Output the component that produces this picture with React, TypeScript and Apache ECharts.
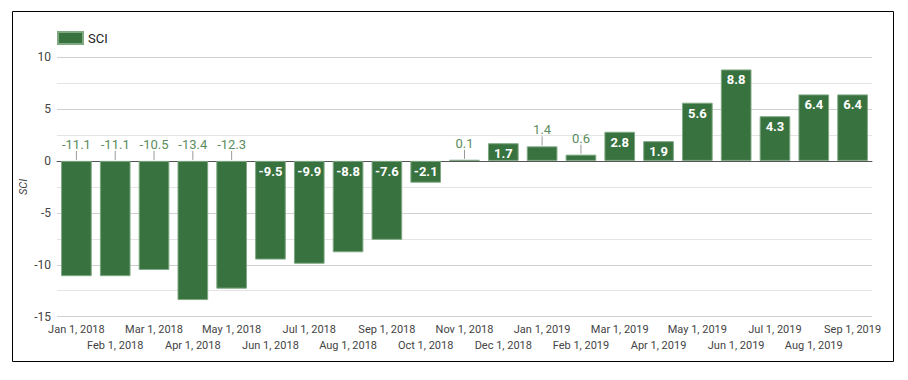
import React, { useEffect, useRef } from "react";
import * as echarts from "echarts";

const categories = [
  "Jan 1, 2018", "Feb 1, 2018", "Mar 1, 2018", "Apr 1, 2018", "May 1, 2018", "Jun 1, 2018",
  "Jul 1, 2018", "Aug 1, 2018", "Sep 1, 2018", "Oct 1, 2018", "Nov 1, 2018", "Dec 1, 2018",
  "Jan 1, 2019", "Feb 1, 2019", "Mar 1, 2019", "Apr 1, 2019", "May 1, 2019", "Jun 1, 2019",
  "Jul 1, 2019", "Aug 1, 2019", "Sep 1, 2019",
];
const sciValues = [
  -11.1, -11.1, -10.5, -13.4, -12.3, -9.5, -9.9, -8.8, -7.6, -2.1, 0.1, 1.7,
  1.4, 0.6, 2.8, 1.9, 5.6, 8.8, 4.3, 6.4, 6.4,
];
// indices whose value label sits outside the bar with a leader line
const outsideLabelIdx = [0, 1, 2, 3, 4, 10, 12, 13];
const yAxisTitle = "SCI";

const BAR = "#38723f";
const FONT = "Roboto, 'Noto Sans', Arial, sans-serif";

export default function App() {
  const ref = useRef<HTMLDivElement>(null);
  useEffect(() => {
    const chart = echarts.init(ref.current!, null, { renderer: "svg" });
    const barData = sciValues.map((v, i) => ({
      value: v,
      label: outsideLabelIdx.includes(i)
        ? { show: false }
        : {
            show: true,
            position: "insideTop",
            distance: 4,
            color: "#ffffff",
            fontWeight: "bold",
            fontSize: 13,
            fontFamily: FONT,
          },
    }));
    const outsideData = outsideLabelIdx.map((i) => [i, sciValues[i]]);
    chart.setOption({
      animation: false,
      textStyle: { fontFamily: FONT },
      graphic: [
        {
          type: "rect",
          shape: { x: 12.5, y: 11.5, width: 881, height: 350 },
          style: { fill: "none", stroke: "#000", lineWidth: 1 },
          silent: true,
        },
        {
          type: "text",
          x: 23,
          y: 187,
          rotation: Math.PI / 2,
          silent: true,
          style: {
            text: yAxisTitle,
            fill: "#444",
            fontSize: 11,
            fontStyle: "italic",
            fontFamily: FONT,
            align: "center",
            verticalAlign: "middle",
          },
        },
      ],
      legend: {
        left: 52,
        top: 26,
        itemWidth: 25,
        itemHeight: 12,
        itemGap: 5,
        data: [{ name: "SCI", icon: "rect" }],
        textStyle: { fontSize: 13, color: "#222", fontFamily: FONT },
      },
      grid: { left: 57, right: 36, top: 57, bottom: 63.3 },
      xAxis: {
        type: "category",
        data: categories,
        axisTick: { show: false },
        axisLine: { show: true, onZero: true, lineStyle: { color: "#555", width: 1 } },
        axisLabel: {
          interval: 0,
          fontSize: 11,
          color: "#444",
          fontFamily: FONT,
          lineHeight: 16,
          margin: 5,
          formatter: (v: string, i: number) => (i % 2 === 1 ? "\n" + v : v),
        },
        splitLine: { show: false },
      },
      yAxis: {
        type: "value",
        min: -15,
        max: 10,
        interval: 5,
        axisLine: { show: false },
        axisTick: { show: false },
        axisLabel: { fontSize: 12, color: "#444", margin: 6, fontFamily: FONT },
        splitLine: { lineStyle: { color: "#d0d0d0", width: 1 } },
        minorTick: { show: false, splitNumber: 2 },
        minorSplitLine: { show: true, lineStyle: { color: "#e4e4e4", width: 1 } },
      },
      series: [
        {
          name: "SCI",
          type: "bar",
          data: barData,
          barWidth: "79%",
          itemStyle: { color: BAR, borderColor: "#7fa883", borderWidth: 1 },
        },
        {
          name: "labels",
          type: "custom",
          data: outsideData,
          silent: true,
          z: 5,
          renderItem: (params: any, api: any) => {
            const v = api.value(1);
            const top = api.coord([api.value(0), Math.max(v, 0)]);
            return {
              type: "group",
              children: [
                {
                  type: "line",
                  shape: { x1: top[0], y1: top[1] - 1, x2: top[0], y2: top[1] - 10 },
                  style: { stroke: "#999", lineWidth: 1 },
                },
                {
                  type: "text",
                  x: top[0],
                  y: top[1] - 16.5,
                  style: {
                    text: v.toFixed(1),
                    fill: "#5a8d5e",
                    fontSize: 13,
                    fontFamily: FONT,
                    align: "center",
                    verticalAlign: "middle",
                  },
                },
              ],
            };
          },
        },
      ],
    });
    return () => chart.dispose();
  }, []);
  return (
    <div
      ref={ref}
      style={{ position: "fixed", left: 0, top: 0, width: 908, height: 380, background: "#fff" }}
    />
  );
}
